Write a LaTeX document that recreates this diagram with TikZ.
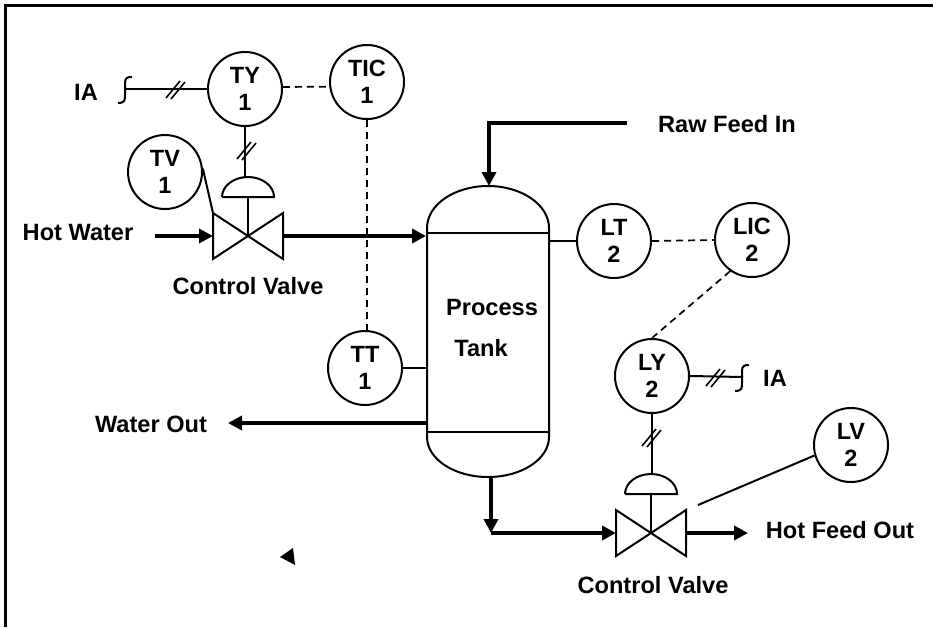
\documentclass[tikz,border=0pt]{standalone}
\usepackage{fontspec}
\setmainfont{Liberation Sans}
\usetikzlibrary{arrows.meta, calc, positioning}
\tikzstyle{instr}=[shape=circle, draw=black, fill=white, line width=2pt, inner sep=0pt, minimum size=74pt, align=center, font=\bfseries\fontsize{23.5}{27.5}\selectfont]
\tikzstyle{lbl}=[inner sep=0pt, font=\bfseries\fontsize{23.6}{27}\selectfont]
\tikzstyle{sig}=[line width=2pt]
\tikzstyle{elec}=[line width=1.7pt, dash pattern=on 7pt off 5pt]
\tikzstyle{pipe}=[line width=4.5pt, -{Triangle[length=14pt, width=14pt]}]
\newcommand{\sigslash}[1]{\draw[line width=1.6pt] ($(#1)+(-9,9)$) -- ($(#1)+(5,-8)$) ($(#1)+(-4,10)$) -- ($(#1)+(10,-7)$);}
\newcommand{\iahook}[1]{\draw[sig] ($(#1)+(-8,14)$) .. controls ($(#1)+(-1,14)$) and ($(#1)+(-1,11)$) .. ($(#1)+(-1,6)$) -- ($(#1)+(-1,-6)$) .. controls ($(#1)+(-1,-11)$) and ($(#1)+(1,-12)$) .. ($(#1)+(6,-12)$);}

\begin{document}
\begin{tikzpicture}[x=1pt,y=-1pt]
\useasboundingbox (0,0) rectangle (933,627);
\draw[line width=3pt] (5,627) -- (5,5) -- (933,5);
%tank
\node[draw, line width=2pt, minimum width=122pt, minimum height=199pt, inner sep=0pt] (tank) at (488,332.5) {};
\draw[sig] (427,228) arc[start angle=180, end angle=360, x radius=61, y radius=42] -- (549,437) arc[start angle=0, end angle=180, x radius=61, y radius=40] -- cycle;
\node[lbl] (proc) at (492,307) {Process};
\node[lbl] (tk) at (481,348) {Tank};
%valves
\coordinate (cv1) at (248,236);
\coordinate (cv2) at (651,533);
\foreach \cv in {cv1,cv2}{
	\draw[sig] ($(\cv)+(-35,-23)$) -- ($(\cv)+(35,23)$) -- ($(\cv)+(35,-23)$) -- ($(\cv)+(-35,23)$) -- cycle;
	\draw[sig] (\cv) -- ($(\cv)+(0,-39)$);
	\draw[sig] ($(\cv)+(-26,-39)$) -- ($(\cv)+(26,-39)$) arc[start angle=0, end angle=-180, x radius=26, y radius=20];
	\coordinate (\cv w) at ($(\cv)+(-35,0)$);
	\coordinate (\cv e) at ($(\cv)+(35,0)$);
	\coordinate (\cv act) at ($(\cv)+(0,-59)$);
}
\node[lbl] (cvl1) at (248,286) {Control Valve};
\node[lbl] (cvl2) at (653,585) {Control Valve};
%instruments
\node[instr] (ty1) at (245,89) {TY\\1};
\node[instr] (tic1) at (367,82) {TIC\\1};
\node[instr] (tv1) at (165,172) {TV\\1};
\node[instr] (tt1) at (365,368) {TT\\1};
\node[instr] (lt2) at (614,241) {LT\\2};
\node[instr] (lic2) at (752,240) {LIC\\2};
\node[instr] (ly2) at (652,376) {LY\\2};
\node[instr] (lv2) at (851,445) {LV\\2};
%labels
\node[lbl] (ia1) at (86,92) {IA};
\node[lbl] (ia2) at (775,378) {IA};
\node[lbl] (hw) at (78,232) {Hot Water};
\node[lbl] (raw) at (727,124) {Raw Feed In};
\node[lbl] (wout) at (151,424) {Water Out};
\node[lbl] (hfo) at (840,530) {Hot Feed Out};
\coordinate (hk1) at (126,89);
\coordinate (hk2) at (743,377);
\coordinate (hwin) at (155,236);
\coordinate (rawin) at (627,123);
\coordinate (tkin) at (489,186);
\coordinate (tkout) at (491,477);
\coordinate (wotip) at (228,423);
\coordinate (hfotip) at (748,533);
%pipes
\draw[pipe] (hwin) -- (cv1w);
\draw[pipe] (cv1e) -- (cv1e -| tank.west);
\draw[pipe] (rawin) -- (rawin -| tkin) -- (tkin);
\draw[pipe] (wotip -| tank.west) -- (wotip);
\draw[pipe] (tkout) -- (tkout |- cv2w);
\draw[pipe] (tkout |- cv2w) -- (cv2w);
\draw[pipe] (cv2e) -- (hfotip);
%signals
\draw[sig] (hk1) -- (ty1.west);
\iahook{hk1}
\sigslash{175,89}
\draw[sig] (ty1.south) -- (ty1.south |- cv1act);
\sigslash{246,150}
\draw[elec] (ty1.3) -- (tic1.187);
\draw[elec] (tic1.south) -- (tic1.south |- tt1.north);
\draw[sig] (tt1.east) -- (tt1 -| tank.west);
\draw[sig] (tv1.5) -- ($(cv1)+(-35,-23)$);
\draw[sig] (lt2 -| tank.east) -- (lt2.west);
\draw[elec] (lt2.east) -- (lic2.west);
\draw[elec] (lic2.235) -- (ly2.north);
\draw[sig] (ly2.east) -- (hk2);
\iahook{hk2}
\sigslash{715,377}
\draw[sig] (ly2.south) -- (ly2.south |- cv2act);
\sigslash{651,437}
\draw[sig] (lv2.196) -- ($(cv2)+(47,-28)$);
\fill (280,557) -- (293,548) -- (295,565) -- cycle;
\end{tikzpicture}
\end{document}
